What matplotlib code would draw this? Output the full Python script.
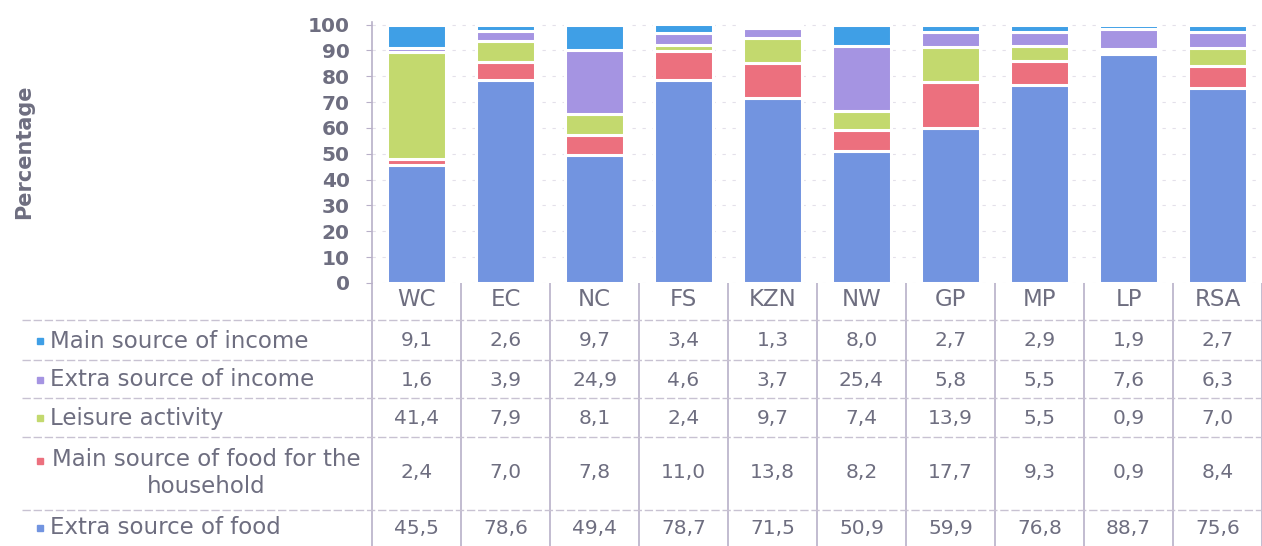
import matplotlib
matplotlib.use("Agg")
import matplotlib.pyplot as plt
import numpy as np

# Provinces (columns) and the five uses of the food garden
regions = ["WC", "EC", "NC", "FS", "KZN", "NW", "GP", "MP", "LP", "RSA"]
series_names = [
    "Main source of income",
    "Extra source of income",
    "Leisure activity",
    "Main source of food for the\nhousehold",
    "Extra source of food",
]
main_income = [9.1, 2.6, 9.7, 3.4, 1.3, 8.0, 2.7, 2.9, 1.9, 2.7]
extra_income = [1.6, 3.9, 24.9, 4.6, 3.7, 25.4, 5.8, 5.5, 7.6, 6.3]
leisure = [41.4, 7.9, 8.1, 2.4, 9.7, 7.4, 13.9, 5.5, 0.9, 7.0]
main_food = [2.4, 7.0, 7.8, 11.0, 13.8, 8.2, 17.7, 9.3, 0.9, 8.4]
extra_food = [45.5, 78.6, 49.4, 78.7, 71.5, 50.9, 59.9, 76.8, 88.7, 75.6]
y_ticks = list(range(0, 101, 10))

series_values = [main_income, extra_income, leisure, main_food, extra_food]
colors = ["#3f9fe6", "#a594e2", "#c3d96e", "#ec707e", "#7294e0"]
text_col = "#6e6e80"
line_col = "#b8b0c8"

W, H = 1262, 546
fig = plt.figure(figsize=(W / 100, H / 100), dpi=100)

# pixel layout
x0, x1 = 372, 1262
plot_top, plot_bot = 22, 283


def fx(px):
    return px / W


def fy(py):
    return 1 - py / H


ax = fig.add_axes([fx(x0), fy(plot_bot), fx(x1 - x0), (plot_bot - plot_top) / H])
x = np.arange(len(regions))
bottom = np.zeros(len(regions))
# stacked from the bottom: extra food, main food, leisure, extra income, main income
for vals, col in reversed(list(zip(series_values, colors))):
    v = np.array(vals)
    ax.bar(x, v, bottom=bottom, width=0.66, color=col, edgecolor="white",
           linewidth=2.2, zorder=3)
    bottom += v

ax.set_xlim(-0.5, len(regions) - 0.5)
ax.set_ylim(0, 101)
ax.set_yticks(y_ticks)
ax.set_yticklabels([str(t) for t in y_ticks], fontsize=14.5, fontweight="bold",
                   color=text_col)
ax.tick_params(axis="y", length=4, color=line_col, pad=12)
ax.set_xticks([])
for s in ["top", "right", "bottom"]:
    ax.spines[s].set_visible(False)
ax.spines["left"].set_color(line_col)
ax.spines["left"].set_linewidth(1.2)
ax.set_facecolor("none")
ax.yaxis.grid(True, color="#e4e0ea", linestyle=(0, (3, 6)), linewidth=0.8, zorder=0)

fig.text(fx(24), fy(152), "Percentage", rotation=90, ha="center", va="center",
         fontsize=15, fontweight="bold", color=text_col)

# data table below the bars
ta = fig.add_axes([0, 0, 1, (H - plot_bot) / H])
ta.set_xlim(0, W)
ta.set_ylim(H, plot_bot)
ta.axis("off")

col_w = (x1 - x0) / len(regions)
header_y = 300
row_y = [341, 380, 418, 473, 528]
h_lines = [320, 360, 398, 437, 510]

# vertical grid
for i in range(len(regions) + 1):
    xx = x0 + i * col_w
    ta.plot([xx, xx], [plot_bot, H], color=line_col, linewidth=1.2)
for yy in h_lines:
    ta.plot([22, W], [yy, yy], color="#c8c2d2", linewidth=1.0,
            linestyle=(0, (6, 2)))

for i, r in enumerate(regions):
    cx = x0 + (i + 0.5) * col_w
    ta.text(cx, header_y, r, ha="center", va="center", fontsize=16.5,
            color=text_col)
    for j, vals in enumerate(series_values):
        ta.text(cx, row_y[j], f"{vals[i]:.1f}".replace(".", ","), ha="center",
                va="center", fontsize=14.5, color=text_col)

for j, (name, col) in enumerate(zip(series_names, colors)):
    ry = row_y[j]
    if "\n" in name:
        ta.text(206, ry, name, ha="center", va="center", fontsize=16.5,
                color=text_col, multialignment="center", linespacing=1.25)
        ta.plot([40], [ry - 12], marker="s", markersize=4, color=col,
                linestyle="none")
    else:
        ta.text(50, ry, name, ha="left", va="center", fontsize=16.5,
                color=text_col)
        ta.plot([40], [ry], marker="s", markersize=4, color=col,
                linestyle="none")

fig.savefig("out.png", dpi=100)
